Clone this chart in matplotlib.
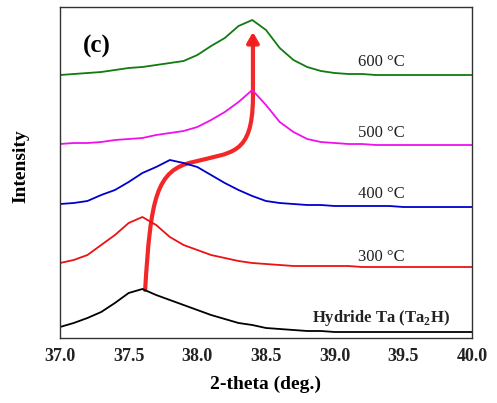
import numpy as np
import matplotlib
matplotlib.use('Agg')
import matplotlib.pyplot as plt
from matplotlib.path import Path
from matplotlib.patches import FancyArrowPatch

plt.rcParams['font.family'] = ['Liberation Serif', 'DejaVu Serif']

# 2-theta grid (deg.)
two_theta = [37.0, 37.1, 37.2, 37.3, 37.4, 37.5, 37.6, 37.7, 37.8, 37.9,
             38.0, 38.1, 38.2, 38.3, 38.4, 38.5, 38.6, 38.7, 38.8, 38.9,
             39.0, 39.1, 39.2, 39.3, 39.4, 39.5, 39.6, 39.7, 39.8, 39.9, 40.0]

# intensities (arbitrary units, curves already offset)
hydride = [11, 15, 20, 26, 35, 45, 49, 43, 38, 33,
           28, 23, 19, 15, 13, 10, 9, 8, 7, 7,
           6, 6, 6, 6, 6, 6, 6, 6, 6, 6, 6]
t300 = [75, 78, 83, 93, 103, 115, 121, 113, 101, 93,
        88, 83, 80, 77, 75, 74, 73, 72, 72, 72,
        72, 72, 71, 71, 71, 71, 71, 71, 71, 71, 71]
t400 = [134, 135, 137, 143, 148, 156, 165, 171, 178, 175,
        171, 163, 155, 148, 142, 137, 135, 134, 133, 133,
        132, 132, 132, 132, 132, 131, 131, 131, 131, 131, 131]
t500 = [194, 195, 195, 196, 198, 199, 200, 203, 205, 207,
        211, 218, 226, 236, 248, 233, 216, 206, 199, 196,
        195, 194, 194, 193, 193, 193, 193, 193, 193, 193, 193]
t600 = [263, 264, 265, 266, 268, 270, 271, 273, 275, 277,
        283, 292, 300, 312, 318, 308, 290, 278, 271, 267,
        265, 264, 264, 263, 263, 263, 263, 263, 263, 263, 263]

series = [hydride, t300, t400, t500, t600]
colors = ['black', '#ee1111', '#0000cc', '#ee11ee', '#117a11']
labels = ['Hydride Ta (Ta$_\\mathregular{2}$H)', '300 °C', '400 °C', '500 °C', '600 °C']
label_y = [20, 81, 144, 205, 276]

fig = plt.figure(figsize=(4.97, 4.03), dpi=100)
ax = fig.add_axes([0.1207, 0.1613, 0.829, 0.8213])

for y, c in zip(series, colors):
    ax.plot(two_theta, y, color=c, lw=1.3)

for i, (lab, ly) in enumerate(zip(labels, label_y)):
    ax.text(39.34, ly, lab, ha='center', va='center', fontsize=12,
            fontweight='bold' if i == 0 else 'normal', color='#222222')

# red arrow showing the peak shift
verts = [(37.62, 48), (37.66, 140), (37.70, 168), (37.97, 176),
         (38.25, 186), (38.40, 182), (38.405, 240), (38.405, 306)]
codes = [Path.MOVETO, Path.CURVE4, Path.CURVE4, Path.CURVE4,
         Path.CURVE4, Path.CURVE4, Path.CURVE4, Path.LINETO]
arrow = FancyArrowPatch(path=Path(verts, codes), arrowstyle='-|>,head_length=6,head_width=3.5',
                        color='#f21c1c', lw=3, alpha=0.95)
ax.add_patch(arrow)

ax.text(37.27, 292, '(c)', fontsize=18, fontweight='bold', ha='center', va='center')

ax.set_xlim(37.0, 40.0)
ax.set_ylim(0, 331)
ax.set_xticks([37.0, 37.5, 38.0, 38.5, 39.0, 39.5, 40.0])
ax.set_xticklabels(['37.0', '37.5', '38.0', '38.5', '39.0', '39.5', '40.0'],
                   fontsize=13, fontweight='bold', color='#222222')
ax.set_yticks([])
ax.tick_params(axis='x', length=0, pad=7)
ax.set_xlabel('2-theta (deg.)', fontsize=14, fontweight='bold')
ax.set_ylabel('Intensity', fontsize=14, fontweight='bold')
ax.xaxis.set_label_coords(0.5, -0.115)
ax.yaxis.set_label_coords(-0.075, 0.52)
for s in ax.spines.values():
    s.set_linewidth(1.0)
    s.set_color('#333333')

fig.savefig('out.png', dpi=100)
